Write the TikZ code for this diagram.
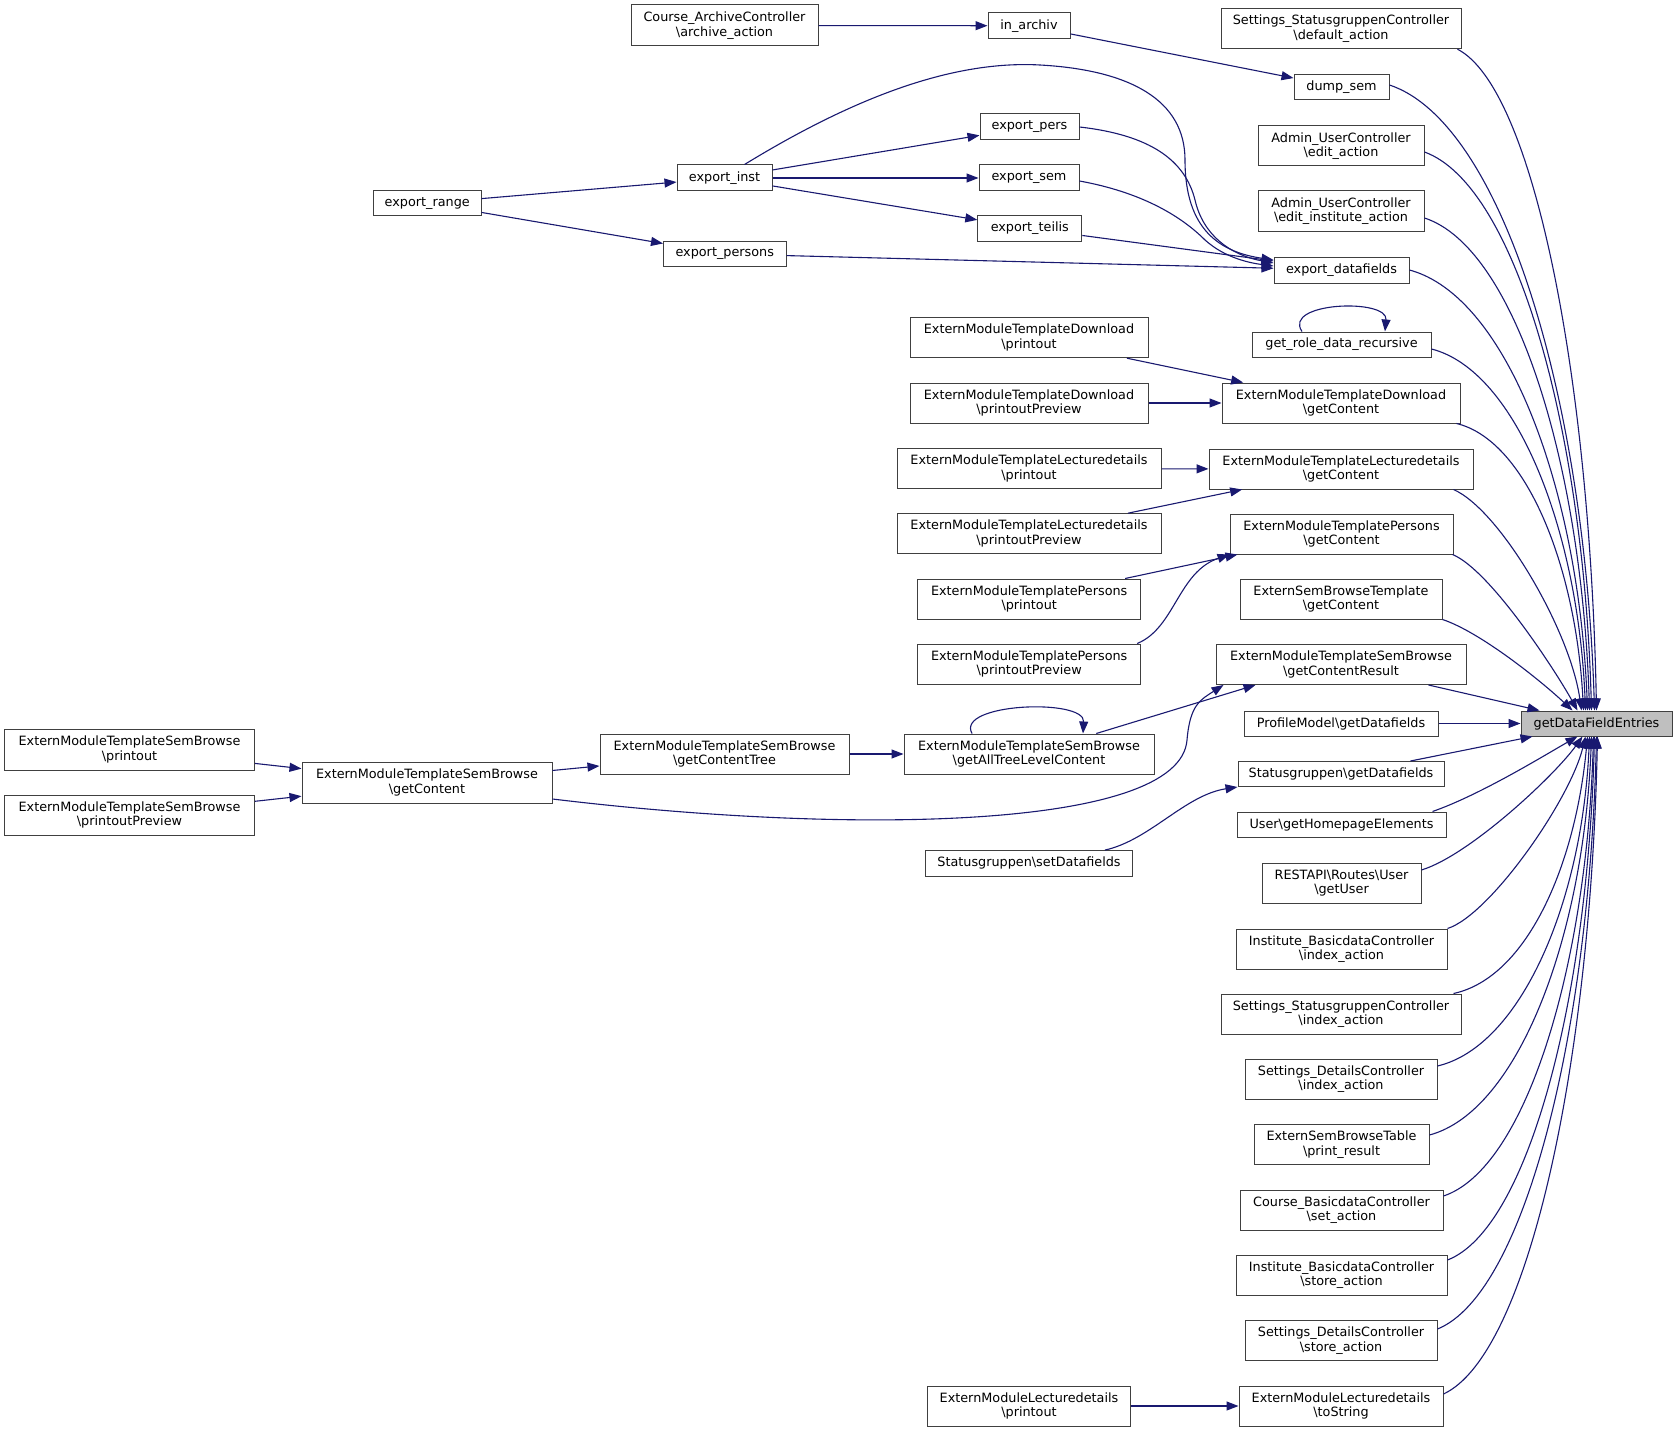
\documentclass[tikz,border=0pt]{standalone}
\usepackage{fontspec}
\setmainfont{DejaVu Sans}
\usetikzlibrary{arrows.meta}
\definecolor{edgeblue}{HTML}{191970}
\definecolor{boxline}{HTML}{404040}
\definecolor{hifill}{HTML}{BFBFBF}
\tikzset{
  fn/.style={draw=boxline, line width=1bp, fill=white, inner sep=0pt, align=center,
    font=\fontsize{12.8bp}{14.5bp}\selectfont, text=black},
  edge/.style={draw=edgeblue, line width=1.1bp, -{Triangle[length=12bp,width=9bp]}}
}
\begin{document}
\begin{tikzpicture}[x=1bp,y=1bp]
\fill[white] (0,0) rectangle (1677,-1432);
\useasboundingbox (0,0) rectangle (1677,-1432);
% column 5
\node[fn, minimum width=250bp, minimum height=41bp] (sbpr) at (129.5,-749.5) {ExternModuleTemplateSemBrowse\\\textbackslash printout};
\node[fn, minimum width=250bp, minimum height=40bp] (sbprp) at (129.5,-815) {ExternModuleTemplateSemBrowse\\\textbackslash printoutPreview};
% column 4
\node[fn, minimum width=107.5bp, minimum height=25bp] (exprange) at (427.25,-203.2) {export\_range};
\node[fn, minimum width=250bp, minimum height=41bp] (sbgc) at (427,-782.5) {ExternModuleTemplateSemBrowse\\\textbackslash getContent};
% column 3
\node[fn, minimum width=187bp, minimum height=41bp] (carch) at (724.5,-25.5) {Course\_ArchiveController\\\textbackslash archive\_action};
\node[fn, minimum width=95bp, minimum height=26bp] (expinst) at (724.5,-178) {export\_inst};
\node[fn, minimum width=122.5bp, minimum height=25.5bp] (exppersons) at (724.75,-254) {export\_persons};
\node[fn, minimum width=249bp, minimum height=40bp] (gct) at (724.5,-754) {ExternModuleTemplateSemBrowse\\\textbackslash getContentTree};
% column 2
\node[fn, minimum width=82bp, minimum height=25.5bp] (inarch) at (1029,-25.75) {in\_archiv};
\node[fn, minimum width=99bp, minimum height=26bp] (exppers) at (1029.5,-127) {export\_pers};
\node[fn, minimum width=100bp, minimum height=26bp] (expsem) at (1029,-178) {export\_sem};
\node[fn, minimum width=104bp, minimum height=25.5bp] (expteil) at (1029.8,-228.5) {export\_teilis};
\node[fn, minimum width=238bp, minimum height=40bp] (dlpr) at (1029,-337.7) {ExternModuleTemplateDownload\\\textbackslash printout};
\node[fn, minimum width=238bp, minimum height=40bp] (dlprp) at (1029,-403) {ExternModuleTemplateDownload\\\textbackslash printoutPreview};
\node[fn, minimum width=264bp, minimum height=40bp] (lecpr) at (1029,-468.7) {ExternModuleTemplateLecturedetails\\\textbackslash printout};
\node[fn, minimum width=264bp, minimum height=40bp] (lecprp) at (1029,-533.7) {ExternModuleTemplateLecturedetails\\\textbackslash printoutPreview};
\node[fn, minimum width=223bp, minimum height=40bp] (perspr) at (1029.2,-599) {ExternModuleTemplatePersons\\\textbackslash printout};
\node[fn, minimum width=223bp, minimum height=40bp] (persprp) at (1029.2,-664) {ExternModuleTemplatePersons\\\textbackslash printoutPreview};
\node[fn, minimum width=250bp, minimum height=40bp] (gatl) at (1029,-754) {ExternModuleTemplateSemBrowse\\\textbackslash getAllTreeLevelContent};
\node[fn, minimum width=207bp, minimum height=25.5bp] (stset) at (1029,-863.3) {Statusgruppen\textbackslash setDatafields};
\node[fn, minimum width=203.5bp, minimum height=40bp] (lecdpr) at (1029,-1406) {ExternModuleLecturedetails\\\textbackslash printout};
% column 1 (right)
\node[fn, minimum width=240bp, minimum height=40bp] (defa) at (1341,-28.7) {Settings\_StatusgruppenController\\\textbackslash default\_action};
\node[fn, minimum width=95bp, minimum height=25bp] (dump) at (1341.5,-87.5) {dump\_sem};
\node[fn, minimum width=166bp, minimum height=40bp] (edit) at (1341,-146) {Admin\_UserController\\\textbackslash edit\_action};
\node[fn, minimum width=166bp, minimum height=40bp] (editinst) at (1341,-211) {Admin\_UserController\\\textbackslash edit\_institute\_action};
\node[fn, minimum width=135bp, minimum height=26bp] (expdf) at (1341.5,-270) {export\_datafields};
\node[fn, minimum width=179bp, minimum height=25bp] (role) at (1341.5,-344.5) {get\_role\_data\_recursive};
\node[fn, minimum width=238bp, minimum height=40bp] (dlgc) at (1341,-403) {ExternModuleTemplateDownload\\\textbackslash getContent};
\node[fn, minimum width=264bp, minimum height=40bp] (lecgc) at (1341,-469) {ExternModuleTemplateLecturedetails\\\textbackslash getContent};
\node[fn, minimum width=223bp, minimum height=40bp] (persgc) at (1341.5,-534) {ExternModuleTemplatePersons\\\textbackslash getContent};
\node[fn, minimum width=202bp, minimum height=40bp] (esbt) at (1341,-599) {ExternSemBrowseTemplate\\\textbackslash getContent};
\node[fn, minimum width=250bp, minimum height=40bp] (gcr) at (1341,-664.5) {ExternModuleTemplateSemBrowse\\\textbackslash getContentResult};
\node[fn, minimum width=194bp, minimum height=25bp] (profile) at (1341,-723.5) {ProfileModel\textbackslash getDatafields};
\node[fn, minimum width=206bp, minimum height=25bp] (stget) at (1341,-774) {Statusgruppen\textbackslash getDatafields};
\node[fn, minimum width=209bp, minimum height=25bp] (user) at (1341.5,-824.5) {User\textbackslash getHomepageElements};
\node[fn, minimum width=159bp, minimum height=40bp] (getuser) at (1341.5,-883) {RESTAPI\textbackslash Routes\textbackslash User\\\textbackslash getUser};
\node[fn, minimum width=211bp, minimum height=40bp] (instidx) at (1341.5,-949) {Institute\_BasicdataController\\\textbackslash index\_action};
\node[fn, minimum width=240bp, minimum height=40bp] (ssidx) at (1341,-1014) {Settings\_StatusgruppenController\\\textbackslash index\_action};
\node[fn, minimum width=192bp, minimum height=40bp] (sdidx) at (1341,-1079) {Settings\_DetailsController\\\textbackslash index\_action};
\node[fn, minimum width=175bp, minimum height=40bp] (prres) at (1341.5,-1144.5) {ExternSemBrowseTable\\\textbackslash print\_result};
\node[fn, minimum width=203bp, minimum height=40bp] (setact) at (1341.5,-1210) {Course\_BasicdataController\\\textbackslash set\_action};
\node[fn, minimum width=211bp, minimum height=40bp] (inststore) at (1341.5,-1275) {Institute\_BasicdataController\\\textbackslash store\_action};
\node[fn, minimum width=192bp, minimum height=40bp] (sdstore) at (1341,-1340.5) {Settings\_DetailsController\\\textbackslash store\_action};
\node[fn, minimum width=204bp, minimum height=40bp] (tostr) at (1341,-1406) {ExternModuleLecturedetails\\\textbackslash toString};
% target
\node[fn, fill=hifill, minimum width=151bp, minimum height=25bp] (gdfe) at (1596.5,-723.5) {getDataFieldEntries};

% edges among left part
\draw[edge] (carch) -- (inarch);
\draw[edge] (inarch) -- (dump);
\draw[edge] (exprange) -- (expinst);
\draw[edge] (exprange) -- (exppersons);
\draw[edge] (expinst) -- (exppers);
\draw[edge] (expinst) -- (expsem);
\draw[edge] (expinst) -- (expteil);
\draw[edge] ([xshift=20bp]expinst.north) .. controls (850,-100) and (950,-60) .. (1040,-65) .. controls (1130,-70) and (1185,-100) .. (1185,-160) .. controls (1185,-230) and (1220,-252) .. ([yshift=10bp]expdf.west);
\draw[edge] (exppers.east) .. controls (1150,-135) and (1185,-160) .. (1195,-200) .. controls (1203,-235) and (1230,-255) .. ([yshift=7bp]expdf.west);
\draw[edge] ([yshift=-3bp]expsem.east) .. controls (1140,-192) and (1180,-215) .. (1205,-240) .. controls (1225,-258) and (1250,-263) .. ([yshift=4bp]expdf.west);
\draw[edge] (expteil) -- (expdf);
\draw[edge] (exppersons) -- (expdf);
\draw[edge] ([xshift=-39.5bp]role.north) .. controls (1282,-302) and (1388,-298) .. ([xshift=43.5bp]role.north);
\draw[edge] (dlpr) -- (dlgc);
\draw[edge] (dlprp) -- (dlgc);
\draw[edge] (lecpr) -- (lecgc);
\draw[edge] (lecprp) -- (lecgc);
\draw[edge] (perspr) -- ([xshift=8bp]persgc.south west);
\draw[edge] ([xshift=-4bp]persprp.north east) .. controls (1175,-628) and (1178,-572) .. (persgc.south west);
\draw[edge] (sbpr) -- (sbgc);
\draw[edge] (sbprp) -- (sbgc);
\draw[edge] (sbgc) -- (gct);
\draw[edge] (gct) -- (gatl);
\draw[edge] ([xshift=-57bp]gatl.north) .. controls (955,-703) and (1085,-698) .. ([xshift=54bp]gatl.north);
\draw[edge] (gatl) -- ([xshift=40bp]gcr.south west);
\draw[edge] ([yshift=-16.5bp]sbgc.east) .. controls (850,-835) and (1180,-830) .. (1187,-740) .. controls (1190,-705) and (1200,-700) .. ([xshift=8bp]gcr.south west);
\draw[edge] ([xshift=-28bp]stset.north east) .. controls (1150,-840) and (1185,-795) .. (stget.south west);
\draw[edge] (lecdpr) -- (tostr);

% edges into getDataFieldEntries
\draw[edge] ([xshift=-4bp]defa.south east) .. controls (1534,-88.7) and (1590,-380) .. ([xshift=76bp]gdfe.north west);
\draw[edge] ([yshift=2.5bp]dump.east) .. controls (1502.3,-122.6) and (1584.7,-398) .. ([xshift=74bp]gdfe.north west);
\draw[edge] ([yshift=-6bp]edit.east) .. controls (1516.4,-185.5) and (1583.6,-431.5) .. ([xshift=71bp]gdfe.north west);
\draw[edge] ([yshift=-7bp]editinst.east) .. controls (1515.3,-247.6) and (1581.7,-464.5) .. ([xshift=69bp]gdfe.north west);
\draw[edge] (expdf.east) .. controls (1507.5,-296.5) and (1579,-490.5) .. ([xshift=67bp]gdfe.north west);
\draw[edge] ([yshift=-4.5bp]role.east) .. controls (1516.25,-370.7) and (1578.25,-530) .. ([xshift=65bp]gdfe.north west);
\draw[edge] ([xshift=-4bp]dlgc.south east) .. controls (1526.4,-440.3) and (1576,-567) .. ([xshift=63bp]gdfe.north west);
\draw[edge] ([xshift=-20bp]lecgc.south east) .. controls (1500,-510) and (1570,-630) .. ([xshift=61bp]gdfe.north west);
\draw[edge] ([xshift=-1bp]persgc.south east) .. controls (1490,-570) and (1555,-670) .. ([xshift=57bp]gdfe.north west);
\draw[edge] (esbt.south east) .. controls (1480,-632) and (1540,-680) .. ([xshift=52bp]gdfe.north west);
\draw[edge] ([xshift=-38bp]gcr.south east) -- ([xshift=19bp]gdfe.north west);
\draw[edge] (profile) -- (gdfe);
\draw[edge] ([xshift=-34bp]stget.north east) -- ([xshift=12bp]gdfe.south west);
\draw[edge] ([xshift=-14bp]user.north east) .. controls (1480,-795) and (1545,-755) .. ([xshift=57bp]gdfe.south west);
\draw[edge] ([yshift=13bp]getuser.east) .. controls (1470,-855) and (1555,-775) .. ([xshift=62bp]gdfe.south west);
\draw[edge] (instidx.north east) .. controls (1490,-915) and (1570,-800) .. ([xshift=65bp]gdfe.south west);
\draw[edge] ([xshift=-8bp]ssidx.north east) .. controls (1527.25,-977.6) and (1575.5,-864.5) .. ([xshift=67bp]gdfe.south west);
\draw[edge] ([yshift=13bp]sdidx.east) .. controls (1521.2,-1046.2) and (1582.35,-901) .. ([xshift=69bp]gdfe.south west);
\draw[edge] ([yshift=9.5bp]prres.east) .. controls (1518.65,-1111.1) and (1583.85,-935.5) .. ([xshift=71bp]gdfe.south west);
\draw[edge] ([yshift=14bp]setact.east) .. controls (1526,-1168.4) and (1586.45,-966) .. ([xshift=73bp]gdfe.south west);
\draw[edge] ([yshift=15bp]inststore.east) .. controls (1528.4,-1228.6) and (1587.6,-998) .. ([xshift=74bp]gdfe.south west);
\draw[edge] ([yshift=11.5bp]sdstore.east) .. controls (1525,-1293.4) and (1589,-1032.5) .. ([xshift=76bp]gdfe.south west);
\draw[edge] ([yshift=12bp]tostr.east) .. controls (1528.25,-1354.5) and (1590.25,-1065) .. ([xshift=77bp]gdfe.south west);
\end{tikzpicture}
\end{document}
